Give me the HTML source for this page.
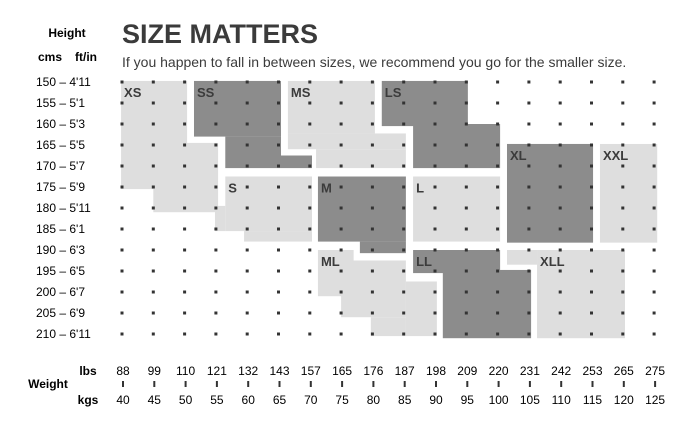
<!DOCTYPE html>
<html><head><meta charset="utf-8"><style>
body{margin:0;background:#fff;width:696px;height:430px;overflow:hidden;font-family:"Liberation Sans","DejaVu Sans",sans-serif;color:#3b3b3b}
svg{position:absolute;left:0;top:0}
</style></head><body>
<svg id="chart" width="696" height="430" viewBox="0 0 696 430">
<text x="208" y="43" font-size="27" font-weight="bold" fill="#3b3b3b" x="122" text-anchor="start" transform="translate(-86,0)">SIZE MATTERS</text>
<text x="122" y="67" font-size="14" fill="#3b3b3b">If you happen to fall in between sizes, we recommend you go for the smaller size.</text>
<text x="67" y="37" font-size="12" font-weight="bold" text-anchor="middle">Height</text>
<text x="50" y="61" font-size="12" font-weight="bold" text-anchor="middle">cms</text>
<text x="86" y="61" font-size="12" font-weight="bold" text-anchor="middle">ft/in</text>
<text x="48" y="388" font-size="12" font-weight="bold" text-anchor="middle">Weight</text>
<text x="88" y="375" font-size="12" font-weight="bold" text-anchor="middle">lbs</text>
<text x="88" y="404" font-size="12" font-weight="bold" text-anchor="middle">kgs</text>
<g id="regions"></g><g id="dots"></g><g id="labels"></g><g id="axes"></g>
</svg>
<script>
const heightLabels=["150 – 4'11","155 – 5'1","160 – 5'3","165 – 5'5","170 – 5'7","175 – 5'9","180 – 5'11","185 – 6'1","190 – 6'3","195 – 6'5","200 – 6'7","205 – 6'9","210 – 6'11"];
const lbsLabels=["88","99","110","121","132","143","157","165","176","187","198","209","220","231","242","253","265","275"];
const kgsLabels=["40","45","50","55","60","65","70","75","80","85","90","95","100","105","110","115","120","125"];
const sizeNames=["XS","SS","MS","LS","S","M","L","ML","LL","XL","XXL","XLL"];
const sizeShades=["light","dark","light","dark","light","dark","light","light","dark","dark","light","light"];
// rectangles in grid units [c0,c1,r0,r1]
const sizeRects=[
 [[-0.03,2.08,-0.05,5.1],[1,3.07,2.9,6.2]],
 [[2.3,5.08,-0.05,2.6],[3.3,5.08,2.6,4.1],[5.08,6.07,3.5,4.1]],
 [[5.3,8.08,-0.05,2.45],[5.3,9.07,2.45,3.2],[6.2,9.07,3.2,4.1]],
 [[8.3,11.05,-0.05,2.1],[9.3,12.08,2.0,4.1]],
 [[3.3,6.07,4.5,7.1],[2.97,3.3,5.9,7.1],[3.9,6.07,7.1,7.6]],
 [[6.26,9.07,4.5,7.6],[7.6,9.07,7.6,8.15]],
 [[9.3,12.08,4.5,7.6]],
 [[6.26,7.4,8,10.2],[7,9.07,8.5,11.2],[7.95,9.07,11.2,12.1],[9.07,10.06,9.5,12.1]],
 [[9.3,12.08,8,9.1],[10.25,13.07,8.95,12.2]],
 [[12.3,15.05,2.95,7.65]],
 [[15.27,17.1,2.95,7.65]],
 [[13.26,16.07,8,12.2],[12.3,13.26,8,8.7]]
];
const NS="http://www.w3.org/2000/svg";
const xs=c=>122+c*31.3, ys=r=>82+r*21;
const reg=document.getElementById('regions'),dots=document.getElementById('dots'),lab=document.getElementById('labels'),ax=document.getElementById('axes');
sizeRects.forEach((rs,i)=>{
 const g=document.createElementNS(NS,'g');
 
 
 rs.forEach(r=>{
  const e=document.createElementNS(NS,'rect');
  e.setAttribute('x',xs(r[0]));e.setAttribute('y',ys(r[2]));
  e.setAttribute('width',xs(r[1])-xs(r[0]));e.setAttribute('height',ys(r[3])-ys(r[2]));
  e.setAttribute('fill',sizeShades[i]==='dark'?'#8c8c8c':'#dedede');
  g.appendChild(e);
 });
 reg.appendChild(g);
 const t=document.createElementNS(NS,'text');
 
 
 t.setAttribute('x',xs(rs[0][0])+3);
 t.setAttribute('y',ys(rs[0][2])+16);
 t.setAttribute('font-size','13');t.setAttribute('font-weight','bold');t.setAttribute('fill','#3b3b3b');
 t.textContent=sizeNames[i];
 lab.appendChild(t);
});
for(let r=0;r<heightLabels.length;r++){
 for(let c=0;c<lbsLabels.length;c++){
  const d=document.createElementNS(NS,'rect');
  
  
  d.setAttribute('x',xs(c)-1.5);d.setAttribute('y',ys(r)-1.5);d.setAttribute('width',3);d.setAttribute('height',3);d.setAttribute('fill','#333');
  dots.appendChild(d);
 }
 const t=document.createElementNS(NS,'text');
 
 
 t.setAttribute('x',36);t.setAttribute('y',ys(r)+4);t.setAttribute('font-size','12');
 t.textContent=heightLabels[r];
 ax.appendChild(t);
}
lbsLabels.forEach((l,c)=>{
 const a=document.createElementNS(NS,'text');
 
 
 a.setAttribute('x',xs(c)+1);a.setAttribute('y',375);a.setAttribute('font-size','12');a.setAttribute('text-anchor','middle');
 a.textContent=l;ax.appendChild(a);
 const k=document.createElementNS(NS,'text');
 
 
 k.setAttribute('x',xs(c)+1);k.setAttribute('y',404);k.setAttribute('font-size','12');k.setAttribute('text-anchor','middle');
 k.textContent=kgsLabels[c];ax.appendChild(k);
 const m=document.createElementNS(NS,'rect');
 
 
 m.setAttribute('x',xs(c));m.setAttribute('y',381);m.setAttribute('width',2);m.setAttribute('height',6);m.setAttribute('fill','#333');
 ax.appendChild(m);
});
</script>
</body></html>
